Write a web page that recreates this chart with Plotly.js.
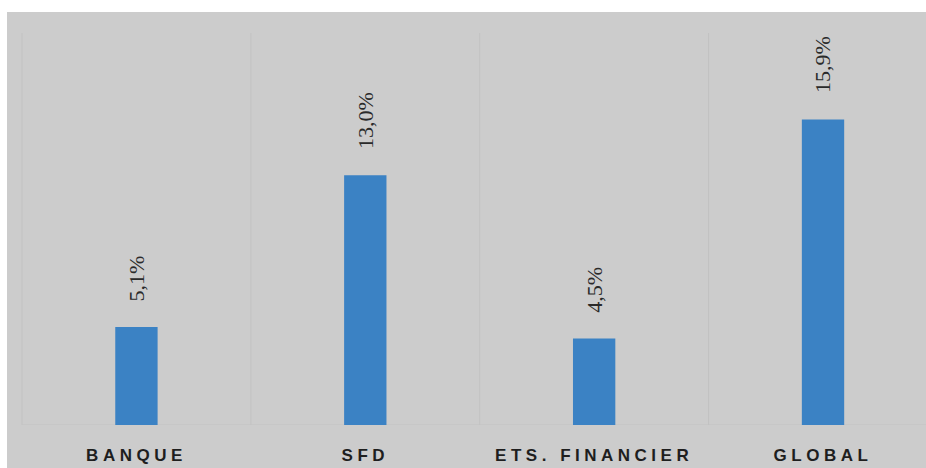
<!DOCTYPE html>
<html>
<head>
<meta charset="utf-8">
<script src="https://cdn.plot.ly/plotly-3.0.1.min.js"></script>
<style>
  html, body { margin: 0; padding: 0; background: #ffffff; overflow: hidden; }
  #bg { position: absolute; left: 7px; top: 12px; right: 0; bottom: 0; width: 919px; height: 456px; background: #cccccc; }
  #chart { position: absolute; left: 0; top: 0; width: 926px; height: 468px; }
  .xtick text { letter-spacing: 4.5px; }
</style>
</head>
<body>
<div id="bg"></div>
<div id="chart"></div>
<script>
const categories = ["BANQUE", "SFD", "ETS. FINANCIER", "GLOBAL"];
const values = [5.1, 13.0, 4.5, 15.9];
const labels = ["5,1%", "13,0%", "4,5%", "15,9%"];

const trace = {
  type: "bar",
  x: categories,
  y: values,
  marker: { color: "#3b82c4" },
  width: 0.185,
  hoverinfo: "skip"
};

const annotations = categories.map((c, i) => ({
  x: c, y: values[i], xref: "x", yref: "y",
  text: labels[i], showarrow: false, textangle: -90,
  yanchor: "bottom", xanchor: "center", yshift: 24,
  font: { family: "Liberation Serif, serif", size: 22, color: "#2a2a2a" }
}));

const shapes = [
  { type: "line", xref: "paper", yref: "paper", x0: 0, x1: 0, y0: 0, y1: 1,
    line: { color: "#c2c2c2", width: 1 }, layer: "below" },
  { type: "line", xref: "paper", yref: "y", x0: 0, x1: 1, y0: 0, y1: 0,
    line: { color: "#c2c2c2", width: 1 }, layer: "below" }
];
[0.5, 1.5, 2.5].forEach(v => shapes.push({
  type: "line", xref: "x", yref: "paper", x0: v, x1: v, y0: 0, y1: 1,
  line: { color: "#c2c2c2", width: 1 }, layer: "below"
}));

const layout = {
  width: 926, height: 468,
  margin: { l: 22, r: 0, t: 33, b: 43 },
  paper_bgcolor: "rgba(0,0,0,0)",
  plot_bgcolor: "rgba(0,0,0,0)",
  showlegend: false,
  xaxis: {
    type: "category",
    range: [-0.5, 3.45],
    showgrid: false, zeroline: false, showline: false,
    ticks: "", ticklen: 0, ticklabelstandoff: 18,
    tickfont: { family: "Liberation Sans, sans-serif", size: 17, color: "#1e1e1e", weight: 600 },
    fixedrange: true
  },
  yaxis: {
    range: [0, 20.4],
    showgrid: false, zeroline: false, showline: false,
    showticklabels: false, ticks: "",
    fixedrange: true
  },
  shapes: shapes,
  annotations: annotations
};

Plotly.newPlot("chart", [trace], layout, { displayModeBar: false, staticPlot: true });
</script>
</body>
</html>
